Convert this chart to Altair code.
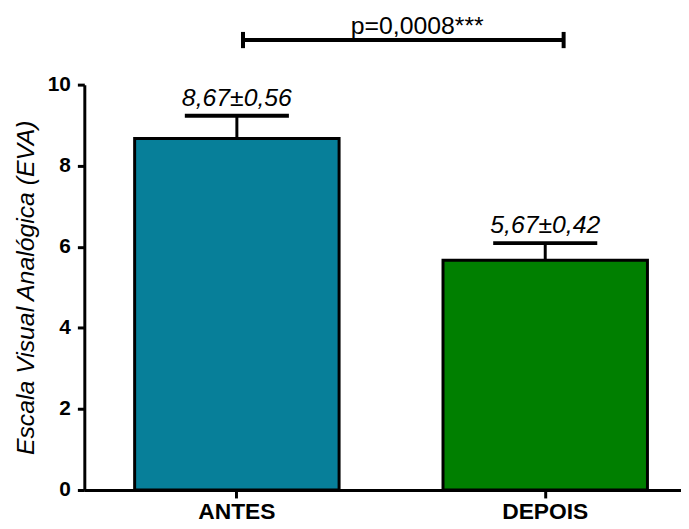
import altair as alt
import pandas as pd

groups = ["ANTES", "DEPOIS"]
means = [8.67, 5.67]
sems = [0.56, 0.42]
labels = ["8,67±0,56", "5,67±0,42"]
colors = ["#077F99", "#007F00"]
y_ticks = [0, 2, 4, 6, 8, 10]
p_text = "p=0,0008***"
bracket_y = [11.1]
bracket_lo = [10.9]
bracket_hi = [11.3]

FONT = "Liberation Sans"
Y_TITLE = "Escala Visual Analógica (EVA)"

df = pd.DataFrame({"grupo": groups, "media": means, "sem": sems, "label": labels})
df["top"] = df["media"] + df["sem"]

br = pd.DataFrame({"a": [groups[0]], "b": [groups[1]], "y": bracket_y,
                   "ylo": bracket_lo, "yhi": bracket_hi, "t": [p_text]})

x_scale = alt.Scale(domain=groups, paddingInner=0.337, paddingOuter=0.136, align=0.6)
y_scale = alt.Scale(domain=[0, 10], nice=False)

x_axis = alt.Axis(labelFont=FONT, labelFontSize=23, labelFontWeight="bold", labelColor="black",
                  labelAngle=0, labelPadding=3, tickColor="black", tickWidth=3, tickSize=8,
                  domainColor="black", domainWidth=3, grid=False)
y_axis = alt.Axis(values=y_ticks, labelFont=FONT, labelFontSize=21, labelFontWeight="bold",
                  labelColor="black", labelPadding=7, tickColor="black", tickWidth=3, tickSize=7,
                  domainColor="black", domainWidth=3, grid=False,
                  titleFont=FONT, titleFontSize=25, titleFontStyle="italic",
                  titleFontWeight="normal", titleColor="black", titlePadding=9)


def X(field, bp=0.5):
    return alt.X(field, type="nominal", scale=x_scale, axis=x_axis, title=None, bandPosition=bp)


def Y(field):
    return alt.Y(field, type="quantitative", scale=y_scale, axis=y_axis, title=Y_TITLE)


base = alt.Chart(df)

bars = base.mark_bar(stroke="black", strokeWidth=3, opacity=1).encode(
    x=X("grupo"),
    y=Y("media"),
    color=alt.Color("grupo:N", scale=alt.Scale(domain=groups, range=colors), legend=None),
)

stem = base.mark_rule(strokeWidth=3, color="black").encode(
    x=X("grupo"), y=Y("media"), y2="top:Q"
)

cap = base.mark_tick(size=105, thickness=4, color="black", opacity=1).encode(
    x=X("grupo"), y=Y("top")
)

vals = base.mark_text(font=FONT, fontSize=25, fontStyle="italic", color="black",
                      baseline="alphabetic", dy=-10).encode(
    x=X("grupo"), y=Y("top"), text="label:N"
)

bb = alt.Chart(br)
hline = bb.mark_rule(strokeWidth=4, color="black").encode(
    x=X("a", 0.53), x2=alt.X2("b", bandPosition=0.59), y=Y("y")
)
lend = bb.mark_rule(strokeWidth=4, color="black").encode(
    x=X("a", 0.53), y=Y("ylo"), y2="yhi:Q"
)
rend = bb.mark_rule(strokeWidth=4, color="black").encode(
    x=X("b", 0.59), y=Y("ylo"), y2="yhi:Q"
)
ptxt = bb.mark_text(font=FONT, fontSize=25, color="black", baseline="alphabetic",
                    dx=182, dy=-6).encode(
    x=X("a"), y=Y("y"), text="t:N"
)

chart = alt.layer(bars, stem, cap, vals, hline, lend, rend, ptxt).properties(
    width=602, height=409,
    padding={"left": 77, "top": 75, "right": 0, "bottom": 35},
    autosize=alt.AutoSizeParams(type="none"),
    background="white",
).configure_view(stroke=None)

chart.save("out.html", embed_options={"renderer": "svg", "actions": False})
